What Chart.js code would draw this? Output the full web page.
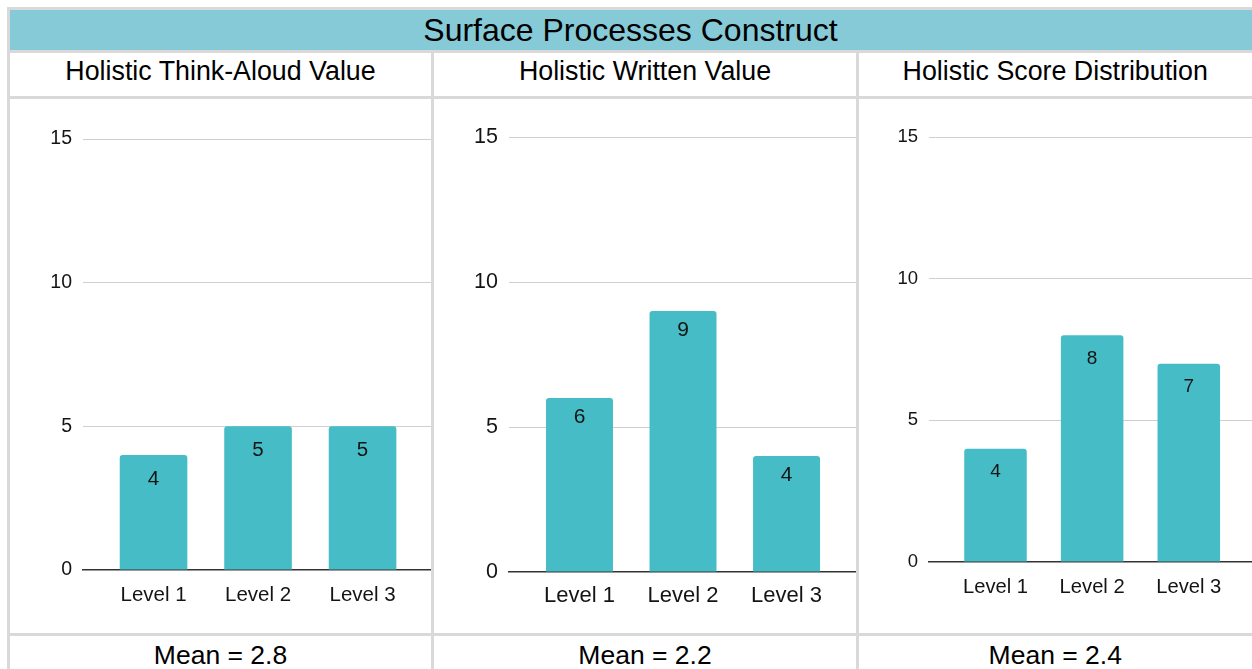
<!DOCTYPE html>
<html>
<head>
<meta charset="utf-8">
<script src="https://cdn.jsdelivr.net/npm/chart.js@4.4.1/dist/chart.umd.min.js"></script>
<style>
  html, body { margin: 0; padding: 0; background: #fff; }
  body {
    width: 1252px; height: 669px; overflow: hidden; position: relative;
    font-family: "Liberation Sans", Arial, sans-serif; color: #000;
  }
  .header { position: absolute; left: 10px; top: 10px; width: 1250px; height: 40px; background: #86cad8; }
  .rule { position: absolute; background: #d9d9d9; z-index: 3; }
  .txt { position: absolute; text-align: center; white-space: nowrap; z-index: 2; }
  .panel { position: absolute; z-index: 1; }
  .panel canvas { display: block; }
</style>
</head>
<body>
<script>
// ---- data ----
const headerTitle = 'Surface Processes Construct';
const panelTitles = ['Holistic Think-Aloud Value', 'Holistic Written Value', 'Holistic Score Distribution'];
const levels = ['Level 1', 'Level 2', 'Level 3'];
const thinkAloudCounts = [4, 5, 5];
const writtenCounts = [6, 9, 4];
const scoreCounts = [4, 8, 7];
const yTicks = [0, 5, 10, 15];
const panelMeans = [2.8, 2.2, 2.4];

// ---- layout / style ----
const FONT = '"Liberation Sans", Arial, sans-serif';
const BAR = '#46bdc6';
const INK = '#141414';

// table column spans (centre lines of the cell borders)
const columns = [
  { left: 8.5, right: 432.5 },
  { left: 432.5, right: 857.5 },
  { left: 857.5, right: 1253 }
];

const panels = [
  { counts: thinkAloudCounts, box: { left: 10, top: 99, width: 421, height: 534 },
    yWidth: 73, padTop: 40, xHeight: 63, xMin: -0.675, xMax: 2.655,
    xTickSize: 20.5, yTickSize: 19.5, tickPad: 12.7, valueSize: 20.5, valueDrop: 24 },
  { counts: writtenCounts, box: { left: 434, top: 99, width: 422, height: 534 },
    yWidth: 75, padTop: 38, xHeight: 61, xMin: -0.681, xMax: 2.671,
    xTickSize: 22, yTickSize: 21.5, tickPad: 10.3, valueSize: 21, valueDrop: 19.5 },
  { counts: scoreCounts, box: { left: 859, top: 99, width: 393, height: 534 },
    yWidth: 70, padTop: 38, xHeight: 71, xMin: -0.688, xMax: 2.654,
    xTickSize: 20.2, yTickSize: 18.5, tickPad: 12.9, valueSize: 19, valueDrop: 23 }
];

function el(cls, css, text) {
  const d = document.createElement('div');
  d.className = cls;
  Object.assign(d.style, css);
  if (text !== undefined) d.textContent = text;
  document.body.appendChild(d);
  return d;
}

// header band and its caption
el('header', {});
el('txt', { left: '8px', width: '1245px', top: '10px', height: '40px', lineHeight: '40px', fontSize: '32px' }, headerTitle);

// column titles and means
columns.forEach((c, i) => {
  const w = (c.right - c.left) + 'px';
  el('txt', { left: c.left + 'px', width: w, top: '51px', height: '40px', lineHeight: '40px', fontSize: '26.8px' }, panelTitles[i]);
  el('txt', { left: c.left + 'px', width: w, top: '635px', height: '40px', lineHeight: '40px', fontSize: '26.5px' }, 'Mean = ' + panelMeans[i].toFixed(1));
});

// table rules
[7, 50, 96, 633].forEach(y => el('rule', { left: '7px', top: y + 'px', width: '1250px', height: '3px' }));
[7, 431, 856].forEach(x => el('rule', { left: x + 'px', top: '50px', width: '3px', height: '630px' }));
el('rule', { left: '7px', top: '7px', width: '3px', height: '46px' });

// value labels written inside the top of each bar
const valueLabels = {
  id: 'valueLabels',
  afterDatasetsDraw(chart, args, opts) {
    const ctx = chart.ctx;
    const meta = chart.getDatasetMeta(0);
    const ds = chart.data.datasets[0].data;
    ctx.save();
    ctx.font = opts.size + 'px ' + FONT;
    ctx.fillStyle = INK;
    ctx.textAlign = 'center';
    ctx.textBaseline = 'middle';
    meta.data.forEach((bar, i) => {
      ctx.fillText(String(ds[i].y), bar.x, bar.y + opts.drop);
    });
    ctx.restore();
  }
};

Chart.defaults.font.family = FONT;

panels.forEach(p => {
  const wrap = el('panel', {
    left: p.box.left + 'px', top: p.box.top + 'px',
    width: p.box.width + 'px', height: p.box.height + 'px'
  });
  const cv = document.createElement('canvas');
  cv.width = p.box.width;
  cv.height = p.box.height;
  cv.style.width = p.box.width + 'px';
  cv.style.height = p.box.height + 'px';
  wrap.appendChild(cv);

  new Chart(cv, {
    type: 'bar',
    data: {
      datasets: [{
        data: p.counts.map((v, i) => ({ x: i, y: v })),
        backgroundColor: BAR,
        borderWidth: 0,
        borderRadius: 3,
        borderSkipped: 'start',
        categoryPercentage: 1,
        barPercentage: 0.647
      }]
    },
    options: {
      responsive: false,
      animation: false,
      devicePixelRatio: 1,
      layout: { padding: { top: p.padTop, left: 0, right: 0, bottom: 0 } },
      plugins: {
        legend: { display: false },
        tooltip: { enabled: false },
        valueLabels: { size: p.valueSize, drop: p.valueDrop }
      },
      scales: {
        x: {
          type: 'linear',
          min: p.xMin,
          max: p.xMax,
          offset: false,
          grid: { display: false, drawTicks: false },
          border: { display: true, color: '#333', width: 1.5 },
          ticks: {
            stepSize: 1,
            includeBounds: false,
            autoSkip: false,
            maxRotation: 0,
            padding: p.tickPad,
            color: INK,
            font: { size: p.xTickSize },
            callback: v => (Number.isInteger(v) && levels[v] !== undefined) ? levels[v] : ''
          },
          afterFit: s => { s.height = p.xHeight; }
        },
        y: {
          min: 0,
          max: 15,
          afterBuildTicks: s => { s.ticks = yTicks.map(v => ({ value: v })); },
          grid: {
            drawTicks: false,
            lineWidth: 1,
            color: ctx => (ctx.tick && ctx.tick.value === 0) ? 'rgba(0,0,0,0)' : '#cfcfcf'
          },
          border: { display: false },
          ticks: { padding: 11, color: INK, font: { size: p.yTickSize } },
          afterFit: s => { s.width = p.yWidth; }
        }
      }
    },
    plugins: [valueLabels]
  });
});
</script>
</body>
</html>
